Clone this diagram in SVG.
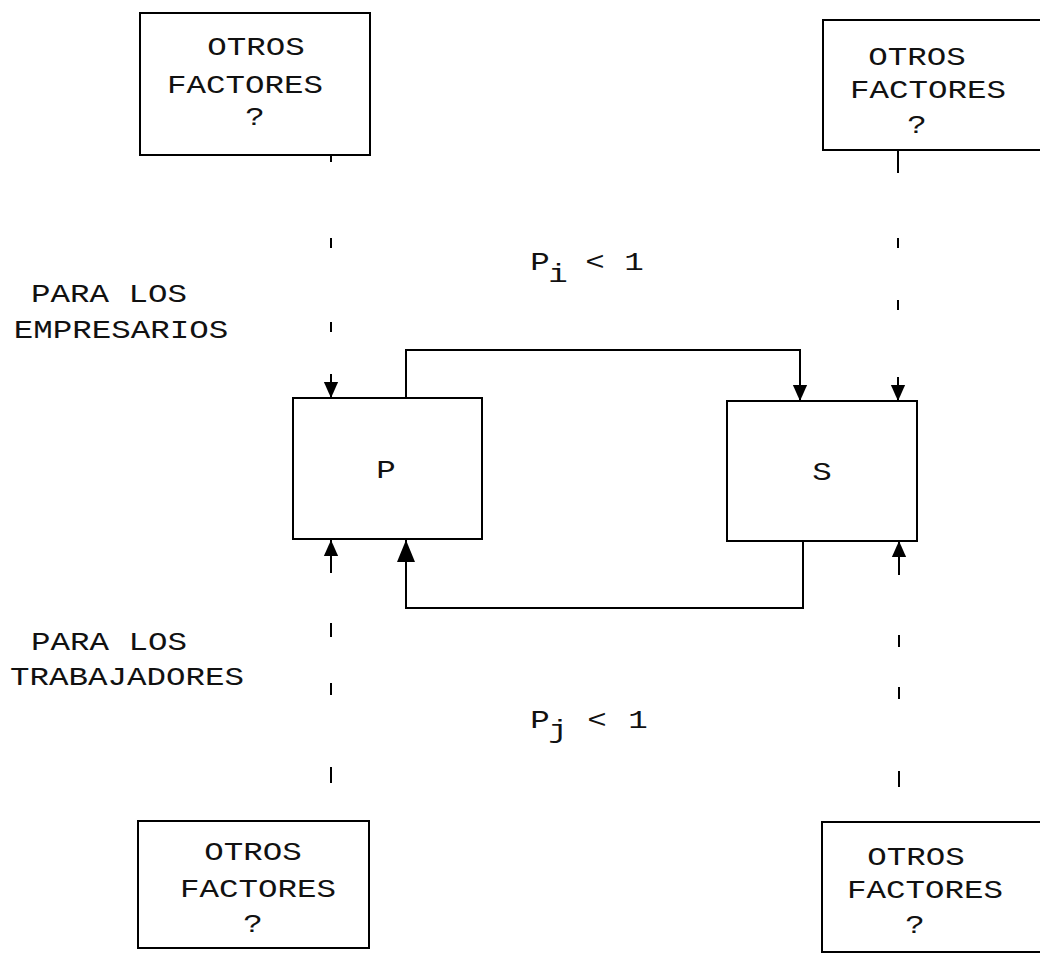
<svg xmlns="http://www.w3.org/2000/svg" width="1040" height="960" viewBox="0 0 1040 960">
<style>
  .box { fill: none; stroke: #000; stroke-width: 2; }
  .t { font-family: "Liberation Mono", "Courier New", monospace; font-size: 25px; fill: #111; text-anchor: middle; }
  .ln { fill: none; stroke: #000; stroke-width: 2; }
  .dash { fill: none; stroke: #000; stroke-width: 2; }
</style>
<defs>
  <marker id="ah" markerUnits="userSpaceOnUse" markerWidth="16" markerHeight="20" viewBox="0 0 18 16" refX="18" refY="8" orient="auto-start-reverse">
    <path d="M0,0 L18,8 L0,16 Z" fill="#000"/>
  </marker>
  <marker id="ahL" markerUnits="userSpaceOnUse" markerWidth="22" markerHeight="22" viewBox="0 0 22 18" refX="22" refY="9" orient="auto-start-reverse">
    <path d="M0,0 L22,9 L0,18 Z" fill="#000"/>
  </marker>
</defs>
<rect width="1040" height="960" fill="#fff"/>

<g id="otros-tl">
  <rect class="box" x="140" y="13" width="230" height="142"/>
  <text class="t" transform="translate(256,55) scale(1.3,1)">OTROS</text>
  <text class="t" transform="translate(245,93) scale(1.3,1)">FACTORES</text>
  <text class="t" transform="translate(255,125) scale(1.3,1)">?</text>
</g>
<g id="otros-tr">
  <path class="box" d="M1045,20 L823,20 L823,150 L1045,150"/>
  <text class="t" transform="translate(917,65) scale(1.3,1)">OTROS</text>
  <text class="t" transform="translate(928,98) scale(1.3,1)">FACTORES</text>
  <text class="t" transform="translate(917,133) scale(1.3,1)">?</text>
</g>
<g id="otros-bl">
  <rect class="box" x="138" y="821" width="231" height="127"/>
  <text class="t" transform="translate(253,860) scale(1.3,1)">OTROS</text>
  <text class="t" transform="translate(258,897) scale(1.3,1)">FACTORES</text>
  <text class="t" transform="translate(253,932) scale(1.3,1)">?</text>
</g>
<g id="otros-br">
  <path class="box" d="M1045,822 L822,822 L822,952 L1045,952"/>
  <text class="t" transform="translate(916,865) scale(1.3,1)">OTROS</text>
  <text class="t" transform="translate(925,898) scale(1.3,1)">FACTORES</text>
  <text class="t" transform="translate(915,933) scale(1.3,1)">?</text>
</g>
<g id="node-p">
  <rect class="box" x="293" y="398" width="189" height="141"/>
  <text class="t" transform="translate(386,478) scale(1.3,1)">P</text>
</g>
<g id="node-s">
  <rect class="box" x="727" y="401" width="190" height="140"/>
  <text class="t" transform="translate(822,480) scale(1.3,1)">S</text>
</g>

<g id="labels">
  <text class="t" transform="translate(109,302) scale(1.3,1)">PARA LOS</text>
  <text class="t" transform="translate(121,338) scale(1.3,1)">EMPRESARIOS</text>
  <text class="t" transform="translate(109,650) scale(1.3,1)">PARA LOS</text>
  <text class="t" transform="translate(127,685) scale(1.3,1)">TRABAJADORES</text>
  <text class="t" transform="translate(540,270) scale(1.3,1)">P</text>
  <text class="t" transform="translate(558,282) scale(1.3,1)">i</text>
  <text class="t" transform="translate(595,270) scale(1.3,1)">&lt;</text>
  <text class="t" transform="translate(634,270) scale(1.3,1)">1</text>
  <text class="t" transform="translate(540,728) scale(1.3,1)">P</text>
  <text class="t" transform="translate(558,738) scale(1.3,1)">j</text>
  <text class="t" transform="translate(597,728) scale(1.3,1)">&lt;</text>
  <text class="t" transform="translate(638,728) scale(1.3,1)">1</text>
</g>

<g id="connectors">
  <path class="dash" d="M331,398 L331,155" stroke-dasharray="24 42 10 74 10 76 10 20" marker-start="url(#ah)"/>
  <path class="dash" d="M898,401 L898,150" stroke-dasharray="24 67 10 52 10 65 23" marker-start="url(#ah)"/>
  <path class="dash" d="M331,540 L331,821" stroke-dasharray="33 50 14 46 12 72 16 60" marker-start="url(#ah)"/>
  <path class="dash" d="M899,541 L899,822" stroke-dasharray="34 60 12 40 12 72 16 60" marker-start="url(#ah)"/>
  <path class="ln" d="M406,398 L406,350 L800,350 L800,401" marker-end="url(#ah)"/>
  <path class="ln" d="M803,541 L803,608 L406,608 L406,540" marker-end="url(#ahL)"/>
</g>
</svg>
